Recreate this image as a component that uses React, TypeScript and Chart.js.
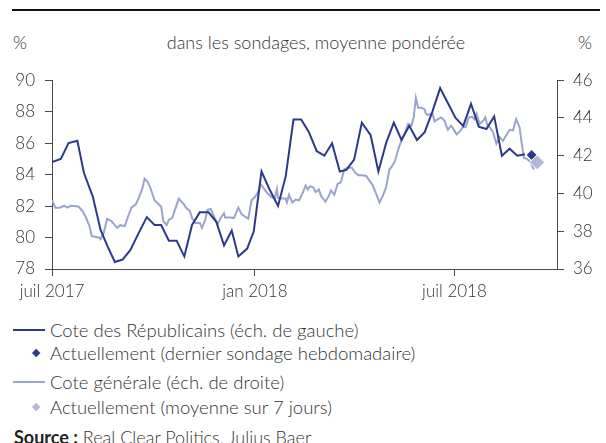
import React, { useEffect, useRef } from 'react';
import { Chart, registerables } from 'chart.js';
Chart.register(...registerables);

// x values are days since 1 July 2017
const TICK_DAYS = [0, 184, 365];
const TICK_LABELS = ['juil 2017', 'jan 2018', 'juil 2018'];
const X_MAX = 458;

const REP_DAYS = [0, 8, 15, 23, 29, 37, 44, 50, 57, 64, 71, 78, 86, 93, 99, 106, 113, 120, 127, 134, 142, 149, 156, 163, 169, 177, 183, 190, 197, 205, 212, 219, 226, 233, 240, 247, 254, 261, 267, 274, 281, 289, 296, 303, 310, 317, 324, 331, 338, 345, 352, 359, 366, 373, 380, 387, 394, 401, 408, 415, 422, 429];
const REP_VALUES = [84.8, 85.0, 86.0, 86.15, 84.1, 82.6, 80.5, 79.5, 78.45, 78.6, 79.2, 80.2, 81.3, 80.8, 80.8, 79.8, 79.8, 78.8, 80.8, 81.6, 81.6, 81.0, 79.5, 80.45, 78.8, 79.3, 80.4, 84.2, 83.1, 82.0, 83.9, 87.5, 87.5, 86.7, 85.5, 85.2, 86.0, 84.2, 84.3, 84.95, 87.3, 86.5, 84.2, 86.0, 87.3, 86.2, 87.1, 86.2, 86.7, 88.0, 89.5, 88.55, 87.6, 87.1, 88.5, 87.05, 86.9, 87.7, 85.2, 85.65, 85.2, 85.3];

const GEN_DAYS = [0, 3, 7, 11, 14, 17, 24, 28, 31, 34, 36, 40, 43, 44, 47, 50, 54, 59, 62, 66, 69, 72, 76, 79, 82, 84, 87, 89, 93, 97, 99, 101, 104, 106, 109, 115, 119, 122, 125, 127, 130, 134, 136, 139, 141, 144, 147, 150, 153, 156, 157, 162, 165, 169, 172, 175, 178, 181, 184, 187, 189, 192, 195, 199, 202, 204, 205, 209, 212, 213, 215, 218, 221, 224, 227, 230, 232, 234, 237, 239, 242, 244, 248, 251, 253, 256, 259, 262, 265, 268, 272, 275, 278, 281, 285, 288, 291, 294, 297, 300, 303, 306, 308, 311, 314, 317, 320, 323, 326, 328, 330, 332, 335, 338, 339, 341, 345, 347, 350, 353, 356, 359, 362, 364, 367, 370, 373, 375, 378, 381, 383, 385, 388, 391, 393, 395, 397, 400, 403, 406, 409, 412, 415, 418, 421, 424, 426, 428, 431, 434, 437];
const GEN_VALUES = [39.64, 39.25, 39.25, 39.35, 39.25, 39.35, 39.31, 39.04, 38.7, 38.27, 37.75, 37.7, 37.66, 37.58, 37.92, 38.66, 38.53, 38.18, 38.32, 38.27, 38.78, 39.25, 39.42, 39.81, 40.28, 40.79, 40.59, 40.33, 39.64, 39.42, 39.3, 38.53, 38.32, 38.61, 38.7, 39.73, 39.47, 39.21, 39.08, 38.7, 38.44, 38.44, 38.18, 38.61, 39.13, 39.18, 38.78, 38.36, 38.7, 38.95, 38.73, 38.73, 38.7, 39.25, 38.9, 38.78, 38.66, 39.64, 39.81, 40.07, 40.5, 40.28, 40.04, 39.81, 39.73, 40.24, 39.76, 39.73, 39.73, 39.52, 39.93, 39.52, 39.68, 39.64, 39.98, 40.42, 40.21, 40.38, 40.33, 40.07, 40.21, 39.87, 39.56, 39.87, 40.16, 39.93, 40.5, 40.59, 41.27, 41.36, 41.36, 41.1, 40.96, 40.96, 40.93, 40.67, 40.42, 39.98, 39.52, 39.87, 40.33, 41.27, 41.41, 41.71, 42.34, 42.82, 43.2, 43.68, 43.59, 44.03, 45.06, 44.54, 44.54, 44.45, 44.23, 44.16, 44.23, 43.82, 43.94, 44.03, 43.85, 43.37, 43.59, 43.42, 43.13, 43.3, 43.54, 43.51, 44.03, 44.06, 43.94, 44.23, 43.68, 43.85, 44.03, 43.59, 43.51, 43.25, 42.65, 42.99, 42.79, 43.08, 43.37, 43.33, 43.94, 43.51, 42.65, 41.88, 41.82, 41.65, 41.27];

const REP_LATEST_DAY = [435];
const REP_LATEST_VALUE = [85.25];
const GEN_LATEST_DAY = [440];
const GEN_LATEST_VALUE = [41.65];

const DARK = '#2d3a8c';
const LIGHT = '#9ba3cf';
const LIGHT_DIAMOND = '#b1b7da';
const AXIS = '#4a4a4a';
const TEXT = '#333333';
const FONT = 'Lato, "Open Sans", sans-serif';

const zip = (xs: number[], ys: number[]) => xs.map((x, i) => ({ x, y: ys[i] }));

function PlotCanvas() {
  const ref = useRef<HTMLCanvasElement | null>(null);
  useEffect(() => {
    if (!ref.current) return;
    const tickFont = { family: FONT, size: 17, weight: 300 as any };
    const chart = new Chart(ref.current, {
      type: 'line',
      data: {
        datasets: [
          {
            label: 'Actuellement (moyenne sur 7 jours)',
            data: zip(GEN_LATEST_DAY, GEN_LATEST_VALUE),
            yAxisID: 'yR',
            showLine: false,
            pointStyle: 'rectRot',
            pointRadius: 7.5,
            pointBackgroundColor: LIGHT_DIAMOND,
            pointBorderColor: '#ffffff',
            pointBorderWidth: 1,
            order: 0,
          },
          {
            label: 'Actuellement (dernier sondage hebdomadaire)',
            data: zip(REP_LATEST_DAY, REP_LATEST_VALUE),
            yAxisID: 'yL',
            showLine: false,
            pointStyle: 'rectRot',
            pointRadius: 5,
            pointBackgroundColor: DARK,
            pointBorderColor: DARK,
            pointBorderWidth: 0,
            order: 1,
          },
          {
            label: 'Cote des Républicains (éch. de gauche)',
            data: zip(REP_DAYS, REP_VALUES),
            yAxisID: 'yL',
            borderColor: DARK,
            borderWidth: 2,
            pointRadius: 0,
            tension: 0,
            order: 2,
          },
          {
            label: 'Cote générale (éch. de droite)',
            data: zip(GEN_DAYS, GEN_VALUES),
            yAxisID: 'yR',
            borderColor: LIGHT,
            borderWidth: 2,
            pointRadius: 0,
            tension: 0,
            order: 3,
          },
        ],
      },
      options: {
        animation: false,
        responsive: false,
        maintainAspectRatio: false,
        layout: { padding: { top: 15, left: 0, right: 0, bottom: 0 } },
        plugins: { legend: { display: false }, tooltip: { enabled: false } },
        scales: {
          x: {
            type: 'linear',
            min: 0,
            max: X_MAX,
            afterBuildTicks: (scale: any) => {
              scale.ticks = TICK_DAYS.map((v) => ({ value: v }));
            },
            afterFit: (scale: any) => {
              scale.height = 41;
            },
            ticks: {
              autoSkip: false,
              maxRotation: 0,
              padding: 5,
              color: TEXT,
              font: tickFont,
              callback: (v: any) => {
                const i = TICK_DAYS.indexOf(Number(v));
                return i >= 0 ? TICK_LABELS[i] : '';
              },
            },
            grid: { drawOnChartArea: false, drawTicks: true, tickLength: 7, color: AXIS },
            border: { display: true, color: AXIS, width: 1 },
          },
          yL: {
            type: 'linear',
            position: 'left',
            min: 78,
            max: 90,
            afterFit: (scale: any) => {
              scale.width = 52;
            },
            ticks: { stepSize: 2, padding: 10, color: TEXT, font: tickFont },
            grid: { drawOnChartArea: false, drawTicks: true, tickLength: 7, color: AXIS },
            border: { display: true, color: AXIS, width: 1 },
          },
          yR: {
            type: 'linear',
            position: 'right',
            min: 36,
            max: 46,
            afterFit: (scale: any) => {
              scale.width = 49;
            },
            ticks: { stepSize: 2, padding: 9, color: TEXT, font: tickFont },
            grid: { drawOnChartArea: false, drawTicks: true, tickLength: 7, color: AXIS },
            border: { display: true, color: AXIS, width: 1 },
          },
        },
      },
    });
    return () => chart.destroy();
  }, []);
  return <canvas ref={ref} width={606} height={250} style={{ width: 606, height: 250, display: 'block' }} />;
}

const textStyle: React.CSSProperties = {
  position: 'absolute',
  fontFamily: FONT,
  fontWeight: 300,
  color: TEXT,
  whiteSpace: 'nowrap',
  lineHeight: '20px',
  height: 20,
};

function Diamond({ x, y, r, color }: { x: number; y: number; r: number; color: string }) {
  return (
    <div
      style={{
        position: 'absolute',
        left: x - r * Math.SQRT1_2,
        top: y - r * Math.SQRT1_2,
        width: r * Math.SQRT2,
        height: r * Math.SQRT2,
        background: color,
        transform: 'rotate(45deg)',
      }}
    />
  );
}

export default function App() {
  return (
    <div
      style={{
        position: 'absolute',
        left: 0,
        top: 0,
        width: 606,
        height: 443,
        background: '#ffffff',
        overflow: 'hidden',
      }}
    >
      <div style={{ position: 'absolute', left: 12, top: 9, width: 588, height: 2, background: '#111' }} />
      <div style={{ ...textStyle, left: 13, top: 32, fontSize: 18 }}>%</div>
      <div style={{ ...textStyle, left: 13, width: 606, textAlign: 'center', top: 32, fontSize: 18 }}>
        dans les sondages, moyenne pondérée
      </div>
      <div style={{ ...textStyle, left: 578, top: 32, fontSize: 18 }}>%</div>

      <div style={{ position: 'absolute', left: 0, top: 60 }}>
        <PlotCanvas />
      </div>

      <div style={{ position: 'absolute', left: 13, top: 329, width: 32, height: 2, background: DARK }} />
      <div style={{ ...textStyle, left: 50, top: 320, fontSize: 18.5 }}>Cote des Républicains (éch. de gauche)</div>
      <Diamond x={36} y={353} r={4.5} color={DARK} />
      <div style={{ ...textStyle, left: 50, top: 343, fontSize: 18.5 }}>Actuellement (dernier sondage hebdomadaire)</div>
      <div style={{ position: 'absolute', left: 13, top: 381, width: 32, height: 2, background: LIGHT }} />
      <div style={{ ...textStyle, left: 50, top: 372, fontSize: 18.5 }}>Cote générale (éch. de droite)</div>
      <Diamond x={36} y={407} r={4.5} color={LIGHT_DIAMOND} />
      <div style={{ ...textStyle, left: 50, top: 397, fontSize: 18.5 }}>Actuellement (moyenne sur 7 jours)</div>

      <div style={{ ...textStyle, left: 14, top: 427, fontSize: 18 }}>
        <span style={{ fontWeight: 700, color: '#222' }}>Source :</span> Real Clear Politics, Julius Baer
      </div>
    </div>
  );
}
